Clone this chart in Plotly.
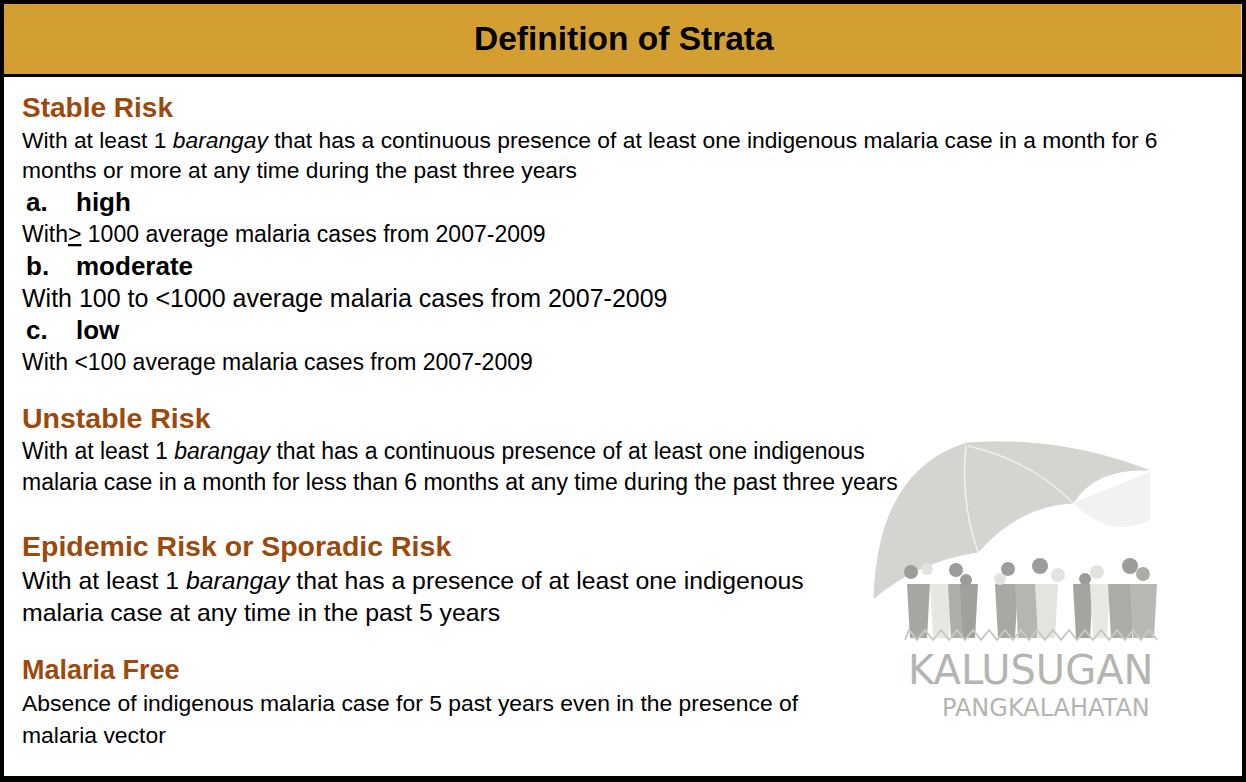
import plotly.graph_objects as go

W, H = 1246, 782
GOLD = "#D49F32"
BROWN = "#9B4A0E"
BODY_FONT = "Liberation Sans, Arial"
HEAD_FONT = "Liberation Sans, Arial"

title_text = "Definition of Strata"

heading_texts = ["Stable Risk", "Unstable Risk", "Epidemic Risk or Sporadic Risk", "Malaria Free"]
heading_y = [107, 418, 546, 670]
heading_size = [28, 28.5, 28.5, 27]

body_texts = [
    "With at least 1 <i>barangay</i> that has a continuous presence of at least one indigenous malaria case in a month for 6",
    "months or more at any time during the past three years",
    "With<u>></u> 1000 average malaria cases from 2007-2009",
    "With 100 to <1000 average malaria cases from 2007-2009",
    "With <100 average malaria cases from 2007-2009",
    "With at least 1 <i>barangay</i> that has a continuous presence of at least one indigenous",
    "malaria case in a month for less than 6 months at any time during the past three years",
    "With at least 1 <i>barangay</i> that has a presence of at least one indigenous",
    "malaria case at any time in the past 5 years",
    "Absence of indigenous malaria case for 5 past years even in the presence of",
    "malaria vector",
]
body_y = [140, 170, 234, 298, 362, 451, 482, 580, 612, 703, 735]
body_size = [22.8, 22.8, 23, 25, 23, 23, 23, 24.8, 24.8, 22.9, 22.9]

sub_labels = ["a.", "b.", "c."]
sub_names = ["high", "moderate", "low"]
sub_y = [202, 266, 330]

fig = go.Figure()

shapes = []
shapes.append(dict(type="rect", x0=0, y0=0, x1=W, y1=H, fillcolor="black", line_width=0, layer="below"))
shapes.append(dict(type="rect", x0=4, y0=4, x1=1242, y1=776, fillcolor="white", line_width=0, layer="below"))
shapes.append(dict(type="rect", x0=4, y0=4, x1=1241.5, y1=74, fillcolor=GOLD, line_width=0, layer="below"))
shapes.append(dict(type="rect", x0=4, y0=74, x1=1242, y1=77, fillcolor="black", line_width=0, layer="below"))

# logo: umbrella canopy
canopy = ("M 874,598 Q 878,470 967,443 Q 1060,436 1148,470 "
          "Q 1095,468 1073,503 Q 1020,505 978,552 Q 920,560 874,598 Z")
shapes.append(dict(type="path", path=canopy, fillcolor="#D4D4D0", line=dict(color="#D4D4D0", width=1), layer="below"))
shapes.append(dict(type="path", path="M 1073,503 Q 1110,540 1150,520 L 1150,472 Z",
                   fillcolor="#F2F2F0", line_width=0, layer="below"))
shapes.append(dict(type="path", path="M 966,446 Q 960,500 978,552", line=dict(color="#F0F0EC", width=1.5), layer="below"))
shapes.append(dict(type="path", path="M 968,446 Q 1030,460 1073,503", line=dict(color="#F0F0EC", width=1.5), layer="below"))

bodies = [
    (907, 930, "#A6A6A2"), (930, 952, "#E6E6E3"), (948, 968, "#ADADA9"), (960, 978, "#A0A09C"),
    (995, 1018, "#A8A8A4"), (1015, 1040, "#B5B5B1"), (1035, 1058, "#E3E3E0"),
    (1073, 1093, "#A4A4A0"), (1090, 1110, "#E8E8E5"), (1108, 1135, "#ABABA7"), (1130, 1157, "#B8B8B4"),
]
for x0, x1, c in bodies:
    shapes.append(dict(type="path",
                       path=f"M {x0},584 L {x1},584 L {x1-3},638 L {x0+3},638 Z",
                       fillcolor=c, line_width=0, layer="below"))
heads = [(911, 572, 7, "#9C9C98"), (927, 569, 6, "#E2E2DF"), (956, 570, 7, "#9C9C98"), (966, 580, 6, "#9C9C98"),
         (1000, 579, 6, "#E2E2DF"), (1008, 569, 7, "#9C9C98"), (1040, 566, 8, "#9C9C98"), (1058, 575, 7, "#E2E2DF"),
         (1085, 579, 6, "#9C9C98"), (1097, 572, 7, "#E2E2DF"), (1130, 566, 8, "#9C9C98"), (1143, 574, 7, "#ABABA7")]
for cx, cy, r, c in heads:
    shapes.append(dict(type="circle", x0=cx - r, x1=cx + r, y0=cy - r, y1=cy + r,
                       fillcolor=c, line_width=0, layer="below"))
zz = "M 905,640 " + " ".join(f"L {905 + i*8 + 4},{630 if i % 2 == 0 else 640}" for i in range(32))
shapes.append(dict(type="path", path=zz, line=dict(color="#C8C8C4", width=2), layer="below"))

annotations = []
annotations.append(dict(x=624, y=38, text=f"<b>{title_text}</b>", showarrow=False, xanchor="center", yanchor="middle",
                        font=dict(family=HEAD_FONT, size=33.5, color="black")))
for t, y, s in zip(heading_texts, heading_y, heading_size):
    annotations.append(dict(x=20, y=y, text=f"<b>{t}</b>", showarrow=False, xanchor="left", yanchor="middle",
                            font=dict(family=HEAD_FONT, size=s, color=BROWN)))
for t, y, s in zip(body_texts, body_y, body_size):
    annotations.append(dict(x=20, y=y, text=t, showarrow=False, xanchor="left", yanchor="middle",
                            font=dict(family=BODY_FONT, size=s, color="black")))
for lab, name, y in zip(sub_labels, sub_names, sub_y):
    annotations.append(dict(x=24, y=y, text=f"<b>{lab}</b>", showarrow=False, xanchor="left", yanchor="middle",
                            font=dict(family=HEAD_FONT, size=26, color="black")))
    annotations.append(dict(x=74, y=y, text=f"<b>{name}</b>", showarrow=False, xanchor="left", yanchor="middle",
                            font=dict(family=HEAD_FONT, size=26, color="black")))
annotations.append(dict(x=1030, y=670, text="KALUSUGAN", showarrow=False, xanchor="center", yanchor="middle",
                        font=dict(family="DejaVu Sans", size=40, color="#B4B4B0")))
annotations.append(dict(x=1046, y=708, text="PANGKALAHATAN", showarrow=False,
                        xanchor="center", yanchor="middle",
                        font=dict(family="DejaVu Sans", size=24, color="#B4B4B0")))

fig.update_layout(
    width=W, height=H, margin=dict(l=0, r=0, t=0, b=0),
    paper_bgcolor="white", plot_bgcolor="white",
    xaxis=dict(range=[0, W], visible=False, fixedrange=True),
    yaxis=dict(range=[H, 0], visible=False, fixedrange=True),
    shapes=shapes, annotations=annotations, showlegend=False,
)
fig.write_html("out.html", config={"displayModeBar": False},
               post_script="document.body.style.margin='0px';document.body.style.overflow='hidden';")
